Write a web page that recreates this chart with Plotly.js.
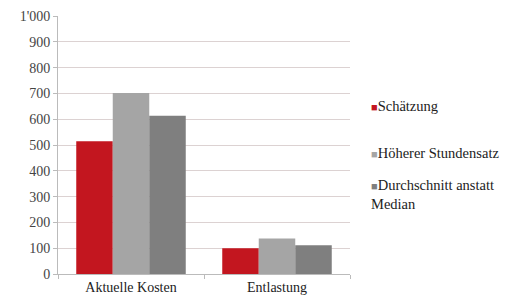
<!DOCTYPE html>
<html><head><meta charset="utf-8">
<script src="https://cdn.plot.ly/plotly-3.0.1.min.js"></script>
<style>html,body{margin:0;padding:0;background:#fff}#c{width:509px;height:306px}</style>
</head><body><div id="c"></div>
<script>
const categories = ["Aktuelle Kosten", "Entlastung"];
const schaetzung = [515, 100];
const hoehererStundensatz = [702, 138];
const durchschnitt = [613, 111];
const seriesNames = ["Schätzung", "Höherer Stundensatz", "Durchschnitt anstatt<br>Median"];
const tickVals = [0,100,200,300,400,500,600,700,800,900,1000];
const tickText = ["0","100","200","300","400","500","600","700","800","900","1'000"];
const colors = ["#c3161f", "#a5a5a5", "#7f7f7f"];
const FONT = "'Liberation Serif', 'Times New Roman', Times, serif";

const data = [schaetzung, hoehererStundensatz, durchschnitt].map((v,i)=>({
  type:"bar", x:categories, y:v, name:seriesNames[i], marker:{color:colors[i]}, showlegend:false
}));
const legendY = [106, 153, 194];
const annotations = seriesNames.map((n,i)=>({
  xref:"paper", yref:"paper", x:(369-58)/292, y:(274-legendY[i])/258,
  xanchor:"left", yanchor:"middle", align:"left", showarrow:false,
  text:"<span style='color:"+colors[i]+";font-size:11px'>■</span>"+n,
  font:{family:FONT, size:14.5, color:"#222"}
}));
const layout = {
  width:509, height:306,
  margin:{l:58, r:159, t:16, b:32},
  paper_bgcolor:"#fff", plot_bgcolor:"#fff",
  font:{family:FONT, size:14, color:"#333"},
  barmode:"group", bargap:0.25, bargroupgap:0,
  xaxis:{showline:true, linecolor:"#bbb", ticks:"outside", tickson:"boundaries", ticklen:4, tickcolor:"#bbb", showgrid:false, tickfont:{family:FONT, size:14, color:"#222"}},
  yaxis:{range:[0,1000], tickvals:tickVals, ticktext:tickText, showline:true, linecolor:"#bbb", ticks:"outside", ticklen:4, tickcolor:"#bbb", gridcolor:"#dcd2d2", zeroline:false, tickfont:{family:FONT, size:14, color:"#444"}},
  showlegend:false,
  annotations:annotations
};
Plotly.newPlot("c", data, layout, {displayModeBar:false, staticPlot:true});
</script></body></html>
